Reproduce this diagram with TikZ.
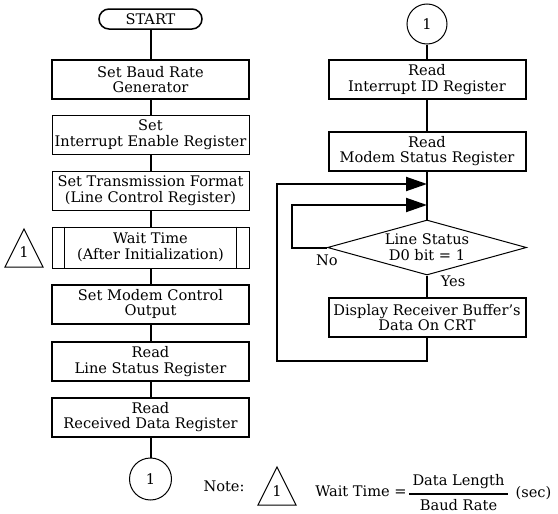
\documentclass[tikz,border=0pt]{standalone}
\usepackage{fontspec}
\setmainfont{DejaVu Serif}
\usetikzlibrary{arrows.meta,shapes.misc,shapes.geometric,calc}
\begin{document}
\begin{tikzpicture}[x=1pt,y=-1pt,
  every node/.style={font=\fontsize{14.6}{15.8}\selectfont, align=center, inner sep=0pt},
  thickbox/.style={draw, line width=2pt, minimum width=197pt, minimum height=39pt},
  thinbox/.style={draw, line width=1pt, minimum width=197pt, minimum height=39pt},
  conn/.style={line width=2pt},
  arr/.style={line width=2pt, -{Triangle[length=21pt,width=14pt]}},
  tri/.style={line width=1pt, line join=miter},
  ]
\useasboundingbox (0,0) rectangle (558,514);
% left column
\node[draw, rounded rectangle, line width=1.5pt, minimum width=103pt, minimum height=20pt] (start) at (150.5,19) {START};
\node[thickbox] (b1) at (150.5,79.5) {Set Baud Rate\\Generator};
\node[thinbox] (b2) at (150.5,134.5) {Set\\Interrupt Enable Register};
\node[thinbox] (b3) at (150.5,191) {Set Transmission Format\\(Line Control Register)};
\node[thinbox, minimum height=41pt] (b4) at (150.5,247.5) {Wait Time\\(After Initialization)};
\draw[line width=1.6pt] ($(b4.north west)+(13,0)$) -- ($(b4.south west)+(13,0)$);
\draw[line width=1.6pt] ($(b4.north east)+(-13,0)$) -- ($(b4.south east)+(-13,0)$);
\node[thickbox] (b5) at (150.5,304) {Set Modem Control\\Output};
\node[thickbox] (b6) at (150.5,361.5) {Read\\Line Status Register};
\node[thickbox] (b7) at (150.5,417) {Read\\Received Data Register};
\node[draw, circle, line width=1pt, minimum size=42pt] (c1) at (150.5,479) {1};
\draw[conn] (start) -- (b1);
\draw[conn] (b1) -- (b2);
\draw[conn] (b2) -- (b3);
\draw[conn] (b3) -- (b4);
\draw[conn] (b4) -- (b5);
\draw[conn] (b5) -- (b6);
\draw[conn] (b6) -- (b7);
\draw[conn] (b7) -- (c1);
% triangle marker
\node (t1) at (24,252) {1};
\draw[tri] ($(t1)+(-19,15)$) -- ($(t1)+(0,-23)$) -- ($(t1)+(19,15)$) -- cycle;
% right column
\node[draw, circle, line width=1pt, minimum size=40pt] (c2) at (427,24) {1};
\node[thickbox] (r1) at (427,79.5) {Read\\Interrupt ID Register};
\node[thickbox] (r2) at (427,151) {Read\\Modem Status Register};
\node[draw, diamond, line width=1pt, aspect=3.6, minimum width=199pt, minimum height=55pt] (d) at (427,247.5) {Line Status\\D0 bit = 1};
\node[thickbox] (r3) at (427,317.5) {Display Receiver Buffer's\\Data On CRT};
\coordinate (j1) at (427,184);
\coordinate (j2) at (427,205);
\coordinate (lp) at (277,361);
\coordinate (np) at (292,247.5);
\draw[conn] (c2) -- (r1);
\draw[conn] (r1) -- (r2);
\draw[conn] (r2) -- (d);
\draw[conn] (d) -- (r3);
\draw[arr] (r3.south) |- (lp) |- (j1);
\draw[arr] (d.west) -- (np) |- (j2);
\node (no) at (327,260) {No};
\node (yes) at (453,281) {Yes};
% note
\node (note) at (224,486) {Note:};
\node (t2) at (277,491) {1};
\draw[tri] ($(t2)+(-19,14)$) -- ($(t2)+(0,-24)$) -- ($(t2)+(19,14)$) -- cycle;
\node (wt) at (361,491) {Wait Time =};
\node (dl) at (458.5,482) {Data Length};
\node (br) at (458.5,505) {Baud Rate};
\coordinate (fb1) at (409,494);
\coordinate (fb2) at (508,494);
\draw[line width=2pt] (fb1) -- (fb2);
\node (sec) at (533.5,493) {(sec)};
\end{tikzpicture}
\end{document}
